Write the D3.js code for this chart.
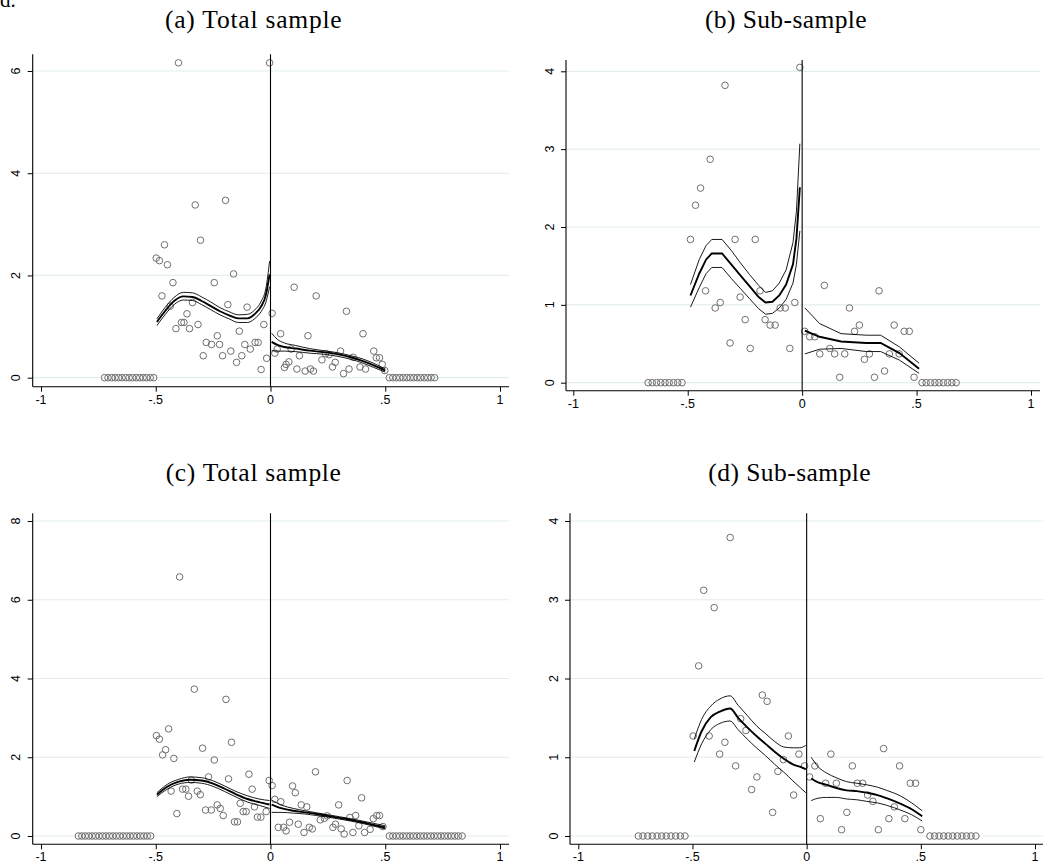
<!DOCTYPE html>
<html>
<head>
<meta charset="utf-8">
<script src="https://cdn.jsdelivr.net/npm/d3@7/dist/d3.min.js"></script>
<style>
  html, body { margin: 0; padding: 0; background: #fff; }
  svg { display: block; }
</style>
</head>
<body>
<svg id="chart" width="1045" height="868"></svg>
<script>
// ---------------- DATA ----------------
const xTickValues = [-1, -0.5, 0, 0.5, 1];
const aYTicks = [0, 2, 4, 6];
const bYTicks = [0, 1, 2, 3, 4];
const cYTicks = [0, 2, 4, 6, 8];
const dYTicks = [0, 1, 2, 3, 4];
const panelTitles = ["(a) Total sample", "(b) Sub-sample", "(c) Total sample", "(d) Sub-sample"];

// Panel (a) scatter
const aX = [-0.401,-0.004,-0.328,-0.196,-0.462,-0.305,-0.498,-0.484,-0.449,-0.161,-0.425,-0.245,-0.473,-0.340,-0.186,-0.102,-0.437,-0.364,-0.388,-0.377,-0.412,-0.353,-0.316,-0.136,-0.029,-0.232,-0.280,-0.257,-0.222,-0.112,-0.067,-0.054,-0.088,-0.173,-0.293,-0.209,-0.125,-0.148,-0.017,-0.041,
  0.007,0.103,0.199,0.331,0.403,0.044,0.163,0.019,0.029,0.090,0.126,0.224,0.305,0.450,0.461,0.475,0.487,0.498,0.080,0.068,0.061,0.115,0.151,0.174,0.187,0.270,0.282,0.318,0.342,0.390,0.414,0.240,0.360,0.255];
const aY = [6.16,6.16,3.38,3.47,2.60,2.69,2.34,2.29,2.21,2.03,1.86,1.86,1.60,1.47,1.43,1.38,1.40,1.25,1.08,1.08,0.96,0.96,1.04,0.91,1.04,0.82,0.69,0.65,0.65,0.65,0.69,0.69,0.56,0.52,0.43,0.43,0.43,0.30,0.38,0.16,
  1.26,1.77,1.60,1.30,0.86,0.86,0.82,0.48,0.56,0.56,0.43,0.35,0.52,0.52,0.39,0.39,0.26,0.14,0.31,0.26,0.20,0.17,0.13,0.17,0.13,0.21,0.30,0.08,0.17,0.21,0.17,0.47,0.40,0.45];
const aZeroX = [-0.723,-0.708,-0.692,-0.677,-0.662,-0.647,-0.631,-0.616,-0.601,-0.585,-0.570,-0.555,-0.540,-0.524,-0.509,
  0.518,0.533,0.548,0.563,0.578,0.594,0.609,0.624,0.639,0.654,0.670,0.685,0.700,0.715];
// Panel (a) fits
const aFitLX = [-0.495,-0.46,-0.42,-0.38,-0.34,-0.30,-0.26,-0.22,-0.18,-0.14,-0.10,-0.07,-0.04,-0.02,-0.004];
const aFitLM = [1.09,1.30,1.50,1.59,1.58,1.50,1.40,1.30,1.22,1.16,1.16,1.24,1.40,1.62,2.02];
const aFitLU = [1.15,1.37,1.57,1.67,1.66,1.58,1.48,1.37,1.29,1.23,1.24,1.32,1.50,1.75,2.28];
const aFitLL = [1.02,1.23,1.43,1.52,1.51,1.43,1.33,1.23,1.15,1.08,1.08,1.15,1.30,1.48,1.78];
const aFitRX = [0.005,0.03,0.06,0.11,0.17,0.23,0.29,0.35,0.40,0.45,0.50];
const aFitRM = [0.70,0.64,0.60,0.57,0.53,0.50,0.46,0.40,0.33,0.24,0.14];
const aFitRU = [0.87,0.75,0.68,0.63,0.57,0.53,0.49,0.43,0.37,0.28,0.17];
const aFitRL = [0.53,0.52,0.52,0.51,0.48,0.46,0.42,0.36,0.29,0.20,0.11];

// Panel (b) scatter
const bX = [-0.010,-0.337,-0.402,-0.444,-0.466,-0.488,-0.293,-0.205,-0.422,-0.184,-0.271,-0.358,-0.380,-0.032,-0.096,-0.074,-0.249,-0.162,-0.140,-0.118,-0.315,-0.227,-0.054,
  0.011,0.033,0.055,0.097,0.207,0.336,0.250,0.229,0.402,0.446,0.468,0.121,0.077,0.142,0.186,0.294,0.272,0.381,0.424,0.164,0.316,0.360,0.489];
const bY = [4.05,3.82,2.87,2.50,2.28,1.84,1.84,1.84,1.18,1.18,1.10,1.03,0.96,1.03,0.96,0.96,0.81,0.81,0.74,0.74,0.51,0.44,0.44,
  0.66,0.59,0.59,1.25,0.96,1.18,0.74,0.66,0.74,0.66,0.66,0.44,0.37,0.37,0.37,0.37,0.30,0.37,0.37,0.07,0.07,0.15,0.07];
const bZeroX = [-0.673,-0.655,-0.636,-0.618,-0.599,-0.581,-0.562,-0.544,-0.525,
  0.524,0.542,0.561,0.580,0.598,0.617,0.636,0.654,0.673];
const bFitLX = [-0.488,-0.45,-0.42,-0.395,-0.35,-0.31,-0.27,-0.23,-0.19,-0.16,-0.13,-0.10,-0.07,-0.04,-0.025,-0.01];
const bFitLM = [1.12,1.40,1.58,1.66,1.66,1.52,1.38,1.24,1.10,1.03,1.04,1.12,1.26,1.52,1.85,2.51];
const bFitLU = [1.26,1.58,1.76,1.84,1.84,1.70,1.54,1.39,1.25,1.16,1.18,1.28,1.45,1.80,2.20,3.07];
const bFitLL = [0.97,1.22,1.40,1.48,1.48,1.34,1.21,1.08,0.95,0.88,0.89,0.96,1.07,1.28,1.52,1.95];
const bFitRX = [0.012,0.076,0.17,0.28,0.343,0.425,0.511];
const bFitRM = [0.67,0.59,0.53,0.51,0.51,0.38,0.18];
const bFitRU = [0.96,0.76,0.63,0.61,0.61,0.46,0.25];
const bFitRL = [0.37,0.43,0.44,0.40,0.40,0.29,0.12];

// Panel (c) scatter
const cX = [-0.396,-0.332,-0.194,-0.444,-0.497,-0.484,-0.170,-0.296,-0.457,-0.470,-0.421,-0.245,-0.094,-0.270,-0.183,-0.006,-0.345,-0.080,-0.433,-0.383,-0.369,-0.319,-0.306,-0.357,-0.408,-0.283,-0.258,-0.232,-0.219,-0.206,-0.157,-0.144,-0.132,-0.119,-0.106,-0.070,-0.057,-0.042,-0.019,
  0.007,0.196,0.334,0.096,0.108,0.397,0.019,0.045,0.134,0.158,0.297,0.371,0.463,0.475,0.448,0.217,0.235,0.247,0.083,0.121,0.034,0.057,0.068,0.146,0.169,0.182,0.272,0.283,0.308,0.321,0.359,0.385,0.410,0.434,0.346,0.490];
const cY = [6.58,3.73,3.47,2.72,2.55,2.46,2.38,2.23,2.19,2.06,1.97,1.93,1.57,1.50,1.45,1.41,1.42,1.19,1.14,1.19,1.19,1.14,1.05,1.01,0.57,0.66,0.66,0.79,0.70,0.52,0.36,0.36,0.83,0.62,0.62,0.74,0.48,0.48,0.62,
  1.28,1.63,1.41,1.27,1.10,0.97,0.93,0.87,0.79,0.74,0.79,0.52,0.52,0.52,0.44,0.41,0.45,0.51,0.35,0.30,0.22,0.22,0.13,0.09,0.22,0.18,0.22,0.30,0.18,0.05,0.09,0.26,0.09,0.17,0.47,0.24];
const cZeroX = [-0.837,-0.822,-0.807,-0.792,-0.777,-0.762,-0.747,-0.732,-0.717,-0.702,-0.687,-0.672,-0.657,-0.642,-0.627,-0.612,-0.597,-0.582,-0.567,-0.552,-0.537,-0.522,
  0.518,0.533,0.548,0.563,0.578,0.593,0.608,0.623,0.638,0.653,0.668,0.683,0.698,0.713,0.728,0.743,0.758,0.773,0.788,0.803,0.818,0.835];
const cFitLX = [-0.495,-0.45,-0.40,-0.35,-0.30,-0.25,-0.20,-0.15,-0.10,-0.05,-0.004];
const cFitLM = [1.05,1.25,1.38,1.43,1.41,1.33,1.20,1.06,0.94,0.86,0.80];
const cFitLU = [1.10,1.31,1.44,1.50,1.48,1.40,1.27,1.13,1.02,0.94,0.90];
const cFitLL = [1.00,1.19,1.32,1.36,1.34,1.26,1.13,0.99,0.86,0.78,0.70];
const cFitRX = [0.005,0.05,0.10,0.15,0.20,0.25,0.30,0.35,0.40,0.45,0.50];
const cFitRM = [0.80,0.70,0.64,0.60,0.56,0.51,0.46,0.41,0.35,0.28,0.22];
const cFitRU = [0.91,0.78,0.70,0.64,0.59,0.54,0.49,0.44,0.38,0.32,0.26];
const cFitRL = [0.60,0.60,0.58,0.56,0.52,0.48,0.43,0.38,0.32,0.25,0.18];

// Panel (d) scatter
const dX = [-0.335,-0.451,-0.405,-0.473,-0.194,-0.173,-0.289,-0.266,-0.497,-0.427,-0.080,-0.358,-0.381,-0.034,-0.102,-0.311,-0.009,-0.126,-0.218,-0.241,-0.057,-0.149,
  0.013,0.036,0.106,0.200,0.337,0.407,0.083,0.130,0.222,0.245,0.454,0.477,0.267,0.290,0.384,0.060,0.176,0.360,0.430,0.153,0.314,0.500];
const dY = [3.79,3.12,2.90,2.16,1.79,1.71,1.49,1.34,1.27,1.27,1.27,1.19,1.04,1.04,0.97,0.89,0.89,0.82,0.75,0.59,0.52,0.30,
  0.75,0.89,1.04,0.89,1.11,0.89,0.67,0.67,0.67,0.67,0.67,0.67,0.52,0.44,0.37,0.22,0.30,0.22,0.22,0.08,0.08,0.08];
const dZeroX = [-0.737,-0.717,-0.696,-0.676,-0.655,-0.635,-0.615,-0.594,-0.574,-0.553,-0.533,
  0.540,0.560,0.580,0.600,0.620,0.640,0.660,0.680,0.700,0.720,0.741];
const dFitLX = [-0.492,-0.46,-0.42,-0.38,-0.335,-0.30,-0.26,-0.22,-0.18,-0.14,-0.10,-0.06,-0.03,-0.004];
const dFitLM = [1.08,1.33,1.51,1.58,1.62,1.50,1.38,1.27,1.17,1.07,0.98,0.91,0.88,0.85];
const dFitLU = [1.23,1.48,1.65,1.74,1.78,1.66,1.53,1.40,1.30,1.20,1.13,1.12,1.12,1.15];
const dFitLL = [0.94,1.17,1.35,1.43,1.46,1.35,1.23,1.12,1.02,0.91,0.81,0.70,0.62,0.55];
const dFitRX = [0.02,0.05,0.087,0.13,0.175,0.22,0.263,0.31,0.35,0.41,0.46,0.506];
const dFitRM = [0.73,0.68,0.65,0.61,0.58,0.57,0.55,0.52,0.48,0.41,0.34,0.25];
const dFitRU = [1.00,0.88,0.80,0.74,0.69,0.67,0.65,0.62,0.58,0.51,0.42,0.32];
const dFitRL = [0.45,0.48,0.49,0.49,0.47,0.46,0.44,0.42,0.39,0.33,0.27,0.19];

// ---------------- LAYOUT ----------------
const layouts = [
  {left:32.7, right:509, top:54.3, bottom:386.7, xr:[41,500], yr:[377.7,71], tx:253.3, ty:28, tw:176.7},
  {left:566, right:1040, top:60, bottom:390.7, xr:[573.3,1031], yr:[382.7,71.3], tx:785.8, ty:28, tw:161.7},
  {left:32.7, right:509, top:513.3, bottom:844.3, xr:[41,500], yr:[836,521], tx:253.3, ty:480.5, tw:175.3},
  {left:570, right:1043, top:513.3, bottom:844.3, xr:[578.3,1035], yr:[836,521], tx:789.5, ty:480.5, tw:162.4}
];

const panels = [
  {title:panelTitles[0], yTicks:aYTicks, px:aX, py:aY, zx:aZeroX, curve:d3.curveMonotoneX,
   fits:[[aFitLX,aFitLM,aFitLU,aFitLL],[aFitRX,aFitRM,aFitRU,aFitRL]]},
  {title:panelTitles[1], yTicks:bYTicks, px:bX, py:bY, zx:bZeroX, curve:d3.curveLinear,
   fits:[[bFitLX,bFitLM,bFitLU,bFitLL],[bFitRX,bFitRM,bFitRU,bFitRL]]},
  {title:panelTitles[2], yTicks:cYTicks, px:cX, py:cY, zx:cZeroX, curve:d3.curveMonotoneX,
   fits:[[cFitLX,cFitLM,cFitLU,cFitLL],[cFitRX,cFitRM,cFitRU,cFitRL]]},
  {title:panelTitles[3], yTicks:dYTicks, px:dX, py:dY, zx:dZeroX, curve:d3.curveMonotoneX,
   fits:[[dFitLX,dFitLM,dFitLU,dFitLL],[dFitRX,dFitRM,dFitRU,dFitRL]]}
];

const fmt = v => v === 0 ? "0" : String(v).replace("0.", ".");
const svg = d3.select("#chart");
const tickFont = "'Liberation Sans', Arial, sans-serif";
const titleFont = "'Liberation Serif', 'Times New Roman', serif";

// caption fragment at the top-left (clipped in the original figure)
svg.append("text").attr("x", 0).attr("y", 7).attr("font-family", titleFont)
  .attr("font-size", 21).attr("fill", "#000").text("d.");

panels.forEach((p, i) => {
  const L = layouts[i];
  const yMax = p.yTicks[p.yTicks.length - 1];
  const x = d3.scaleLinear().domain([-1, 1]).range(L.xr);
  const y = d3.scaleLinear().domain([0, yMax]).range(L.yr);
  const g = svg.append("g");

  // title
  g.append("text").attr("x", L.tx).attr("y", L.ty).attr("text-anchor", "middle")
    .attr("font-family", titleFont).attr("font-size", 25.5).attr("fill", "#000")
    .attr("textLength", L.tw).attr("lengthAdjust", "spacing").text(p.title);

  // gridlines
  g.selectAll("line.grid").data(p.yTicks).join("line").attr("class", "grid")
    .attr("x1", L.left).attr("x2", L.right)
    .attr("y1", d => y(d)).attr("y2", d => y(d))
    .attr("stroke", "#e4eded").attr("stroke-width", 1.2);

  // y axis ticks
  const yAxis = d3.axisLeft(y).tickValues(p.yTicks).tickSize(5).tickFormat("");
  const ya = g.append("g").attr("transform", `translate(${L.left},0)`).call(yAxis);
  ya.select(".domain").remove();
  ya.selectAll(".tick line").attr("stroke", "#000");
  g.selectAll("text.ylab").data(p.yTicks).join("text").attr("class", "ylab")
    .attr("transform", d => `translate(${L.left - 12.5},${y(d)}) rotate(-90)`)
    .attr("text-anchor", "middle").attr("font-family", tickFont).attr("font-size", 12.5)
    .attr("fill", "#000").text(fmt);

  // x axis ticks
  const xAxis = d3.axisBottom(x).tickValues(xTickValues).tickSize(5).tickFormat("");
  const xa = g.append("g").attr("transform", `translate(0,${L.bottom})`).call(xAxis);
  xa.select(".domain").remove();
  xa.selectAll(".tick line").attr("stroke", "#000");
  g.selectAll("text.xlab").data(xTickValues).join("text").attr("class", "xlab")
    .attr("x", d => x(d)).attr("y", L.bottom + 17)
    .attr("text-anchor", "middle").attr("font-family", tickFont).attr("font-size", 12.5)
    .attr("fill", "#000").text(fmt);

  // axis lines
  g.append("line").attr("x1", L.left).attr("x2", L.left).attr("y1", L.top).attr("y2", L.bottom)
    .attr("stroke", "#000").attr("stroke-width", 1.1);
  g.append("line").attr("x1", L.left).attr("x2", L.right).attr("y1", L.bottom).attr("y2", L.bottom)
    .attr("stroke", "#000").attr("stroke-width", 1.1);

  // scatter
  const pts = p.px.map((v, k) => [v, p.py[k]]).concat(p.zx.map(v => [v, 0]));
  g.selectAll("circle.pt").data(pts).join("circle").attr("class", "pt")
    .attr("cx", d => x(d[0])).attr("cy", d => y(d[1])).attr("r", 3.3)
    .attr("fill", "none").attr("stroke", "#6f6f6f").attr("stroke-width", 1);

  // fit lines
  const line = d3.line().x(d => x(d[0])).y(d => y(d[1])).curve(p.curve);
  p.fits.forEach(f => {
    const [fx, fm, fu, fl] = f;
    [[fu, 0.9], [fl, 0.9], [fm, 1.9]].forEach(([arr, w]) => {
      g.append("path").datum(fx.map((v, k) => [v, arr[k]]))
        .attr("d", line).attr("fill", "none").attr("stroke", "#000").attr("stroke-width", w);
    });
  });

  // vertical line at zero
  g.append("line").attr("x1", x(0)).attr("x2", x(0)).attr("y1", L.top).attr("y2", L.bottom)
    .attr("stroke", "#000").attr("stroke-width", 1.1);
});
</script>
</body>
</html>
